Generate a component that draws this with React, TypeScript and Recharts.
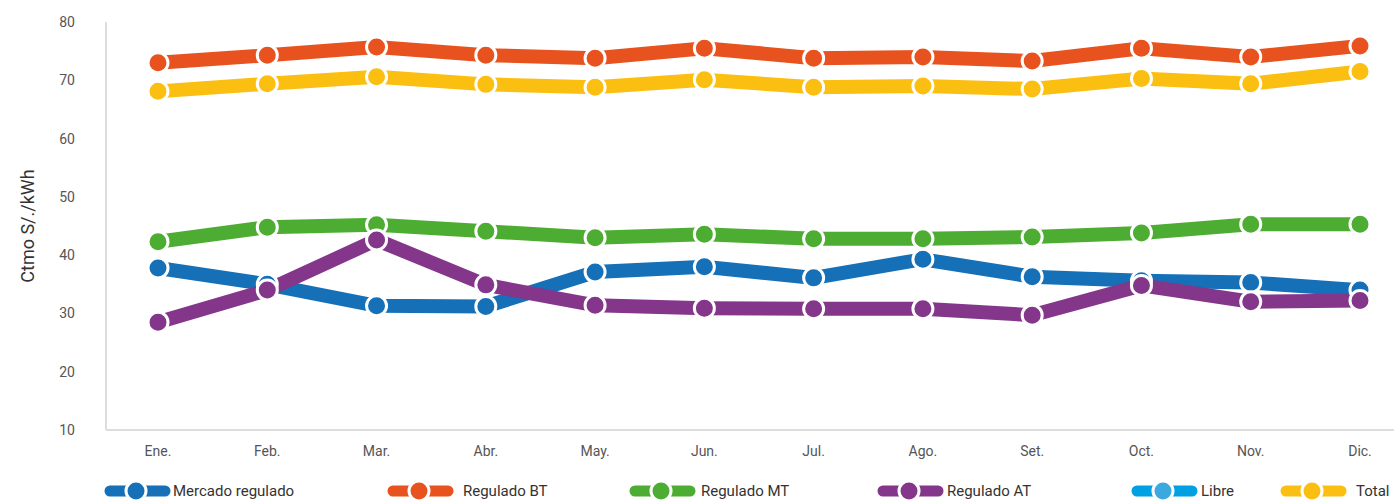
import React from "react";
import { LineChart, Line, XAxis, YAxis, Legend } from "recharts";

if (typeof document !== "undefined") {
  document.body.style.margin = "0";
}

const months = ["Ene.", "Feb.", "Mar.", "Abr.", "May.", "Jun.", "Jul.", "Ago.", "Set.", "Oct.", "Nov.", "Dic."];
const mercadoRegulado = [37.8, 35.0, 31.3, 31.2, 37.1, 38.0, 36.1, 39.3, 36.3, 35.6, 35.3, 34.0];
const reguladoBT = [73.0, 74.3, 75.7, 74.3, 73.8, 75.5, 73.8, 74.0, 73.3, 75.5, 74.0, 75.9];
const reguladoMT = [42.3, 44.8, 45.2, 44.1, 43.0, 43.6, 42.8, 42.8, 43.1, 43.8, 45.3, 45.3];
const reguladoAT = [28.5, 34.0, 42.6, 34.9, 31.4, 30.9, 30.8, 30.8, 29.7, 34.8, 32.0, 32.2];
const libre: (number | null)[] = [null, null, null, null, null, null, null, null, null, null, null, null];
const total = [68.1, 69.4, 70.6, 69.3, 68.8, 70.1, 68.8, 69.0, 68.5, 70.3, 69.4, 71.5];
const yTicks = [10, 20, 30, 40, 50, 60, 70, 80];

const seriesNames = ["Mercado regulado", "Regulado BT", "Regulado MT", "Regulado AT", "Libre", "Total"];
const seriesKeys = ["mercado", "bt", "mt", "at", "libre", "total"];
const seriesValues = [mercadoRegulado, reguladoBT, reguladoMT, reguladoAT, libre, total];

const COLORS = ["#1570B8", "#E8521F", "#4DAD33", "#84368A", "#00A0E3", "#FBBF12"];
const DOT_COLORS = ["#1570B8", "#E8521F", "#4DAD33", "#84368A", "#3BA9DF", "#FBBF12"];
const LEGEND_LEFT = [104, 387, 629, 877, 1131, 1280];
const LEGEND_GAP = [2, 9, 5, 3, 3, 9];

const data = months.map((m, i) => {
  const row: Record<string, string | number | null> = { month: m };
  seriesKeys.forEach((k, s) => {
    row[k] = seriesValues[s][i];
  });
  return row;
});

const FONT = "Roboto, 'DejaVu Sans', sans-serif";

const LegendContent = () => (
  <div style={{ position: "relative", height: 24, width: 1394, fontFamily: FONT }}>
    {seriesNames.map((name, i) => (
      <div
        key={name}
        style={{
          position: "absolute",
          left: LEGEND_LEFT[i],
          top: 3,
          height: 24,
          display: "flex",
          alignItems: "center",
          whiteSpace: "nowrap",
        }}
      >
        <svg width={67} height={24} style={{ display: "block" }}>
          <line x1={6} y1={12} x2={61} y2={12} stroke={COLORS[i]} strokeWidth={11} strokeLinecap="round" />
          <circle cx={32} cy={12} r={10} fill={DOT_COLORS[i]} stroke="#fff" strokeWidth={3} />
        </svg>
        <span style={{ marginLeft: LEGEND_GAP[i], fontSize: 15, color: "#333" }}>{name}</span>
      </div>
    ))}
  </div>
);

export default function App() {
  return (
    <LineChart width={1394} height={500} data={data} margin={{ top: 22, right: 0, bottom: 0, left: 0 }}>
      <XAxis
        dataKey="month"
        axisLine={{ stroke: "#DDDDDD", strokeWidth: 2 }}
        tickLine={false}
        tick={{ fontSize: 14, fill: "#555", fontFamily: FONT }}
        tickMargin={10}
        height={46}
        padding={{ left: 52, right: 34 }}
        interval={0}
      />
      <YAxis
        domain={[10, 80]}
        ticks={yTicks}
        axisLine={{ stroke: "#DDDDDD", strokeWidth: 2 }}
        tickLine={false}
        tick={{ fontSize: 14, fill: "#555", fontFamily: FONT }}
        tickMargin={25}
        width={106}
        label={{
          value: "Ctmo S/./kWh",
          angle: -90,
          position: "insideLeft",
          offset: 28,
          style: { textAnchor: "middle", fontSize: 18, fill: "#333", fontFamily: FONT },
        }}
      />
      <Legend verticalAlign="bottom" height={24} content={<LegendContent />} wrapperStyle={{ left: 0, bottom: 0, width: 1394 }} />
      {seriesKeys.map((k, i) => (
        <Line
          key={k}
          dataKey={k}
          name={seriesNames[i]}
          stroke={COLORS[i]}
          strokeWidth={14}
          strokeLinecap="butt"
          strokeLinejoin="miter"
          isAnimationActive={false}
          dot={{ r: 10, fill: DOT_COLORS[i], stroke: "#fff", strokeWidth: 3 }}
          activeDot={false}
          connectNulls={false}
        />
      ))}
    </LineChart>
  );
}
